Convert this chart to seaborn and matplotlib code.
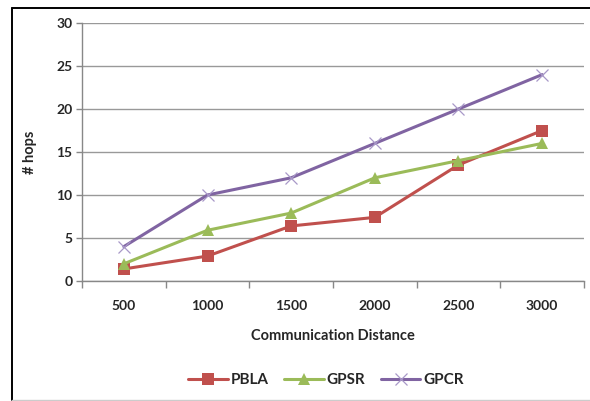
import pandas as pd
import matplotlib
matplotlib.use('Agg')
import matplotlib.pyplot as plt
from matplotlib.lines import Line2D
from matplotlib.ticker import FixedLocator
import seaborn as sns

# Data
distances = ['500', '1000', '1500', '2000', '2500', '3000']
pbla = [1.4, 2.9, 6.4, 7.4, 13.5, 17.5]
gpsr = [2.0, 5.9, 7.9, 12.0, 14.0, 16.0]
gpcr = [4.0, 10.0, 12.0, 16.0, 20.0, 24.0]
methods = ['PBLA', 'GPSR', 'GPCR']

rows = []
for name, vals in zip(methods, [pbla, gpsr, gpcr]):
    for i, v in enumerate(vals):
        rows.append({'pos': i, 'hops': v, 'method': name})
df = pd.DataFrame(rows)

sns.set_style('white')
plt.rcParams['font.family'] = ['Lato', 'DejaVu Sans']

fig = plt.figure(figsize=(5.9, 4.01), dpi=100)
ax = fig.add_axes([82 / 590, 1 - 281 / 401, (584 - 82) / 590, (281 - 23) / 401])

# outer chart border (left and top black, bottom light grey)
x0, ytop, ybot = 11.5 / 590, 1 - 7.5 / 401, 1 - 399.5 / 401
fig.lines.append(Line2D([x0, x0], [ybot, ytop], transform=fig.transFigure,
                        color='black', linewidth=1.4))
fig.lines.append(Line2D([x0, 1], [ytop, ytop], transform=fig.transFigure,
                        color='black', linewidth=1.4))
fig.lines.append(Line2D([x0, 1], [ybot, ybot], transform=fig.transFigure,
                        color='#cccccc', linewidth=1))

colors = {'PBLA': '#C0504D', 'GPSR': '#9BBB59', 'GPCR': '#8064A2'}
markers = {'PBLA': 's', 'GPSR': '^', 'GPCR': 'x'}
for name in methods:
    sub = df[df['method'] == name]
    if markers[name] == 'x':
        sns.lineplot(data=sub, x='pos', y='hops', color=colors[name], marker='x',
                     markersize=9, markeredgewidth=0.9, markeredgecolor='#A898C8',
                     linewidth=2.2, label=name, ax=ax)
    else:
        sns.lineplot(data=sub, x='pos', y='hops', color=colors[name], marker=markers[name],
                     markersize=8, markeredgewidth=0, linewidth=2.2, label=name, ax=ax)

ax.set_xlim(-0.5, 5.5)
ax.set_ylim(0, 30)
ax.set_yticks(range(0, 31, 5))
ax.set_xticks(range(len(distances)))
ax.set_xticklabels(distances)
ax.xaxis.set_minor_locator(FixedLocator([i + 0.5 for i in range(-1, 6)]))
ax.tick_params(axis='x', which='major', length=0, pad=14)
ax.tick_params(axis='x', which='minor', length=5, color='#888888', width=1, bottom=True)
ax.tick_params(axis='y', length=4, color='#888888', width=1, left=True, pad=3)
for lab in ax.get_xticklabels() + ax.get_yticklabels():
    lab.set_fontsize(10)
    lab.set_fontweight('bold')

ax.yaxis.grid(True, color='#999999', linewidth=1)
ax.set_axisbelow(True)
for side in ['top', 'right']:
    ax.spines[side].set_visible(False)
for side in ['left', 'bottom']:
    ax.spines[side].set_color('#888888')
    ax.spines[side].set_linewidth(1)

ax.set_xlabel('Communication Distance', fontsize=10.5, fontweight='bold', labelpad=12)
ax.set_ylabel('# hops', fontsize=10.5, fontweight='bold', labelpad=14)

handles, labels = ax.get_legend_handles_labels()
ax.get_legend().remove()
fig.legend(handles, labels, loc='center', bbox_to_anchor=(326 / 590, 1 - 380 / 401),
           ncol=3, frameon=False, handlelength=2.6, columnspacing=1.0,
           handletextpad=0.2, prop={'weight': 'bold', 'size': 11})

fig.savefig('out.png', dpi=100)
